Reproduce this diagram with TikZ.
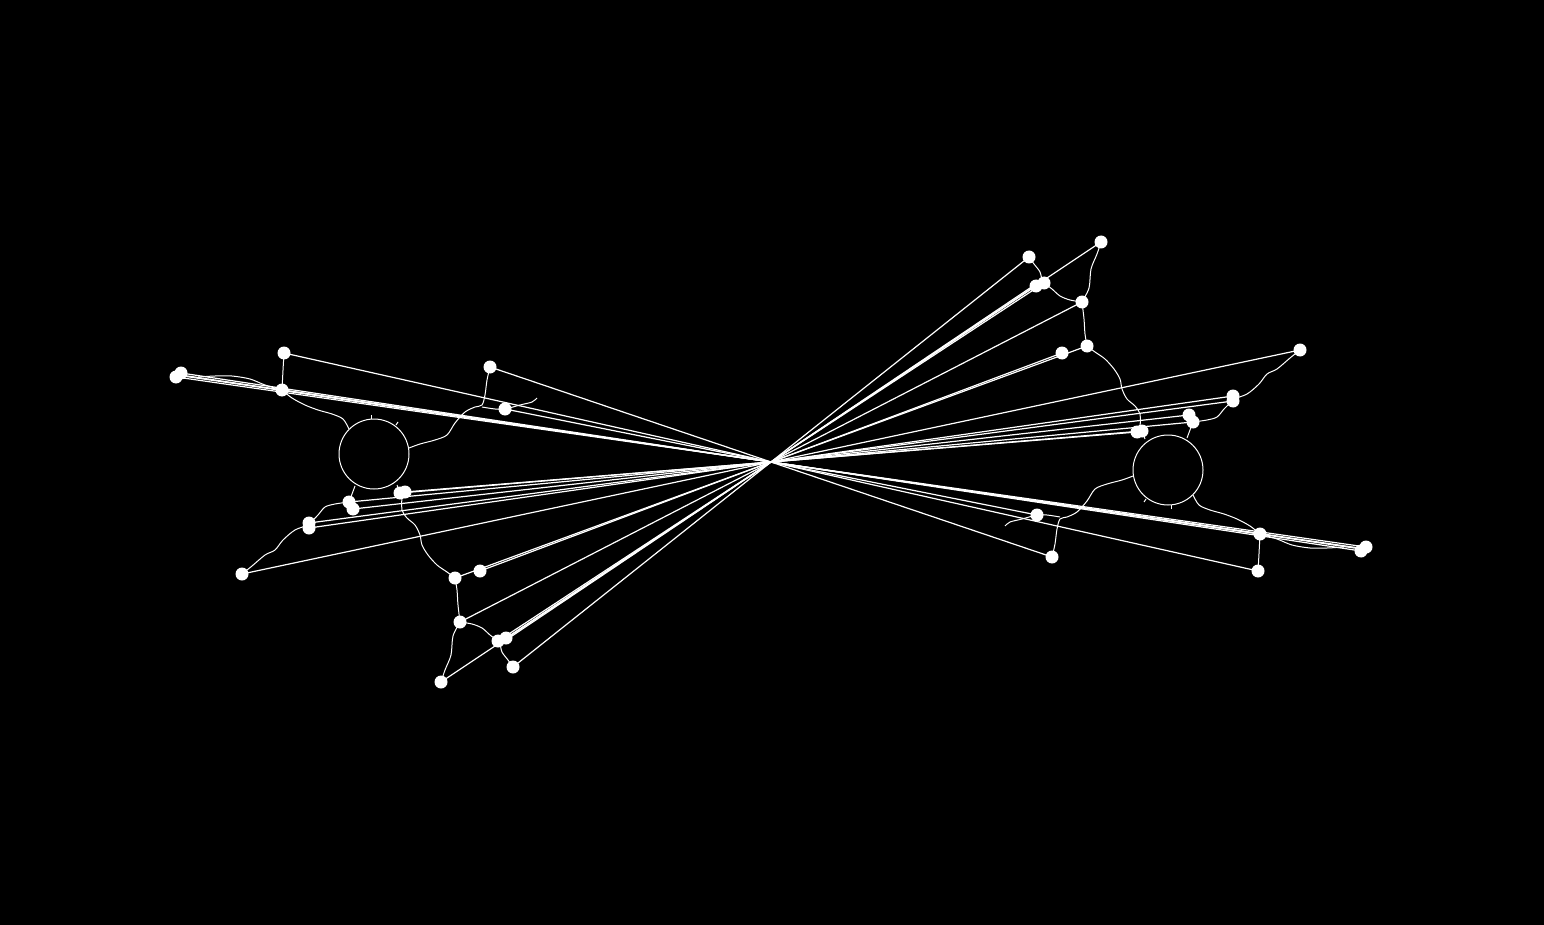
\documentclass[tikz,border=0pt]{standalone}
\begin{document}
\begin{tikzpicture}[x=1pt,y=-1pt,
 dot/.style={circle,fill=white,inner sep=0pt,minimum size=13pt},
 ray/.style={white,line width=1.2pt},
 wig/.style={white,line width=1pt},
 ring/.style={white,line width=1pt}]
\fill[black] (0,0) rectangle (1544,925);
\useasboundingbox (0,0) rectangle (1544,925);
\coordinate (c) at (771,462);
\foreach \s/\a in {l/0,r/180}{
 \begin{scope}[rotate around={\a:(771,462)}]
  \node[dot] (\s1a) at (176,377) {};
  \node[dot] (\s1b) at (181,373) {};
  \node[dot] (\s2) at (284,353) {};
  \node[dot] (\s3) at (282,390) {};
  \node[dot] (\s4) at (490,367) {};
  \node[dot] (\s5) at (505,409) {};
  \node[dot] (\s6a) at (349,502) {};
  \node[dot] (\s6b) at (353,509) {};
  \node[dot] (\s7a) at (400,493) {};
  \node[dot] (\s7b) at (405,492) {};
  \node[dot] (\s8a) at (309,523) {};
  \node[dot] (\s8b) at (309,528) {};
  \node[dot] (\s9) at (242,574) {};
  \node[dot] (\s10) at (455,578) {};
  \node[dot] (\s11) at (480,571) {};
  \node[dot] (\s12) at (460,622) {};
  \node[dot] (\s13a) at (498,641) {};
  \node[dot] (\s13b) at (506,638) {};
  \node[dot] (\s14) at (513,667) {};
  \node[dot] (\s15) at (441,682) {};
  \node[draw=white,ring,circle,minimum size=70pt,inner sep=0pt] (\s o) at (374,454) {};
  \foreach \n in {1a,1b,2,3,4,5,6a,6b,7a,7b,8a,8b,9,10,11,12,13a,13b,14,15}
    \draw[ray] (\s\n.center) -- (c);
  \draw[ray] ([yshift=2pt]\s1a.center) -- (c);
  \draw[ray] ([yshift=-2pt]\s1b.center) -- (c);
  \draw[ray] ([xshift=3pt]\s13b.center) -- (c);
  % wiggly links
  \draw[wig] (\s2.center) .. controls (283,370) .. (\s3.center);
  \draw[wig] plot[smooth] coordinates {(198,377) (215,376) (232,376) (250,379) (265,385) (282,390)};
  \draw[wig] plot[smooth] coordinates {(282,390) (292,398) (305,405) (318,410) (332,414) (343,419) (349,429)};
  \draw[wig] plot[smooth] coordinates {(490,367) (487,380) (485,395) (482,405) (475,407) (465,412) (455,423) (447,435) (435,440) (420,444) (409,448)};
  \draw[wig] plot[smooth] coordinates {(482,407) (495,409) (505,409) (520,405) (532,402) (537,398)};
  \draw[wig] plot[smooth] coordinates {(355,486) (352,494) (349,502)};
  \draw[wig] plot[smooth] coordinates {(349,502) (335,504) (325,507) (318,515) (310,523)};
  \draw[wig] plot[smooth] coordinates {(309,525) (295,530) (283,540) (275,550) (265,555) (252,566) (242,574)};
  \draw[wig] plot[smooth] coordinates {(397,485) (400,493)};
  \draw[wig] plot[smooth] coordinates {(402,495) (402,510) (407,518) (415,525) (420,535) (422,545) (428,555) (437,565) (447,572) (455,578)};
  \draw[wig] plot[smooth] coordinates {(455,578) (457,590) (458,605) (460,622)};
  \draw[wig] plot[smooth] coordinates {(460,622) (472,624) (482,628) (490,635) (498,641)};
  \draw[wig] plot[smooth] coordinates {(460,622) (453,636) (451,655) (445,670) (441,682)};
  \draw[wig] plot[smooth] coordinates {(500,643) (502,652) (508,660) (513,667)};
  \draw[wig] (371,415) -- (371,419);
  \draw[wig] (398,422) -- (396,425);
 \end{scope}
}
\end{tikzpicture}
\end{document}
